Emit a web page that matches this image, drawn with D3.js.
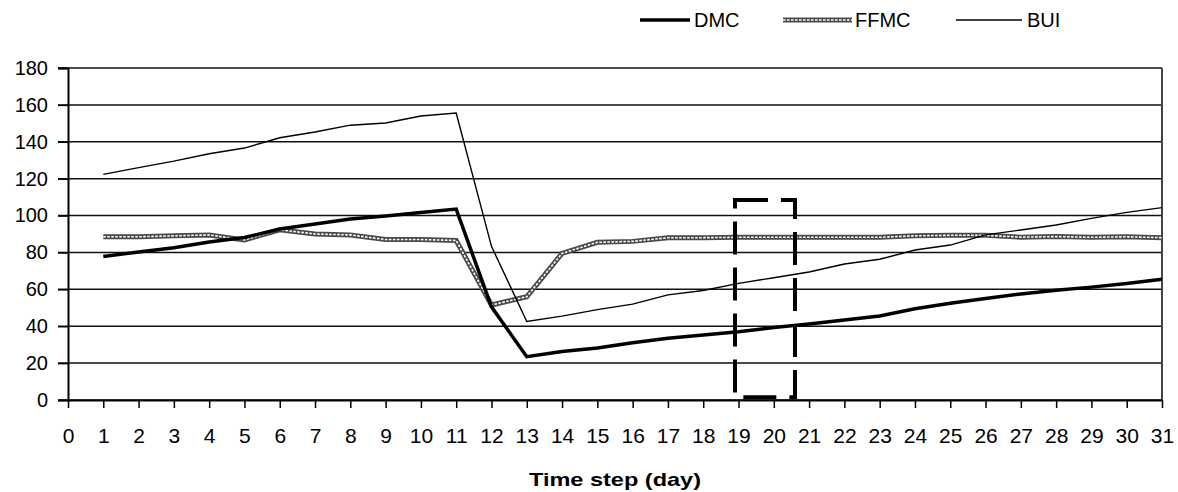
<!DOCTYPE html>
<html lang="en">

<head>
    <meta charset="UTF-8">
    <title>DMC FFMC BUI</title>
    <style>
        body {
            padding: 0;
            margin: 0;
            background: #fff;
        }

        text {
            font-family: "Liberation Sans", Arial, sans-serif;
        }
    </style>
</head>

<body>
    <script src="https://d3js.org/d3.v7.min.js"></script>
    <script>
        // data
        const days = [1, 2, 3, 4, 5, 6, 7, 8, 9, 10, 11, 12, 13, 14, 15, 16, 17, 18, 19, 20, 21, 22, 23, 24, 25, 26, 27, 28, 29, 30, 31]
        const dmc = [77.8, 80.3, 82.6, 85.7, 88.1, 92.7, 95.4, 98.1, 99.8, 101.6, 103.5, 50.5, 23.5, 26.3, 28.2, 31, 33.5, 35.2, 37, 39.3, 41.2, 43.4, 45.5, 49.5, 52.5, 55, 57.5, 59.5, 61.2, 63.2, 65.5]
        const ffmc = [88.5, 88.5, 89, 89.5, 86.8, 92.3, 90, 89.5, 87, 87, 86.5, 51.5, 56, 79.5, 85.5, 86, 88, 88, 88.2, 88.2, 88.2, 88.2, 88.2, 89, 89.3, 89.3, 88.3, 88.6, 88.2, 88.5, 88]
        const bui = [122.3, 126, 129.5, 133.5, 136.6, 142.2, 145.3, 149, 150.2, 154, 155.6, 83.3, 42.6, 45.5, 49, 52, 57, 59.4, 63.2, 66.3, 69.4, 73.7, 76.3, 81.3, 84, 89.5, 92.2, 94.9, 98.5, 101.7, 104.3]
        const xTicks = d3.range(0, 32)
        const yTicks = [0, 20, 40, 60, 80, 100, 120, 140, 160, 180]
        // dashed box around days 19-20
        const box = { x0: 18.9, x1: 20.6, y0: 1.5, y1: 108.5 }

        const width = 1178
        const height = 492
        const margin = { top: 68, right: 16, bottom: 92, left: 68 }
        const fontSize = 20

        const svg = d3.select('body')
            .append('svg')
            .attr('width', width)
            .attr('height', height)

        const x = d3.scaleLinear().domain([0, 31]).range([margin.left, width - margin.right])
        const y = d3.scaleLinear().domain([0, 180]).range([height - margin.bottom, margin.top])

        // 网格线
        svg.append('g')
            .selectAll('line')
            .data(yTicks)
            .enter()
            .append('line')
            .attr('x1', margin.left - 10)
            .attr('x2', width - margin.right)
            .attr('y1', d => y(d))
            .attr('y2', d => y(d))
            .attr('stroke', '#111')
            .attr('stroke-width', 1.5)

        // right border
        svg.append('line')
            .attr('x1', width - margin.right)
            .attr('x2', width - margin.right)
            .attr('y1', y(180))
            .attr('y2', y(0))
            .attr('stroke', '#444')
            .attr('stroke-width', 2)

        // y axis
        const yAxis = svg.append('g')
            .attr('transform', `translate(${margin.left},0)`)
            .call(d3.axisLeft(y).tickValues(yTicks).tickSize(10).tickPadding(10))
        yAxis.select('.domain').attr('stroke', '#000').attr('stroke-width', 2)
        yAxis.selectAll('.tick line').attr('stroke', '#000').attr('stroke-width', 1.5)
        yAxis.selectAll('text')
            .attr('font-size', fontSize)
            .attr('fill', '#000')
            .style('font-family', '"Liberation Sans", Arial, sans-serif')

        // x axis
        const xAxis = svg.append('g')
            .attr('transform', `translate(0,${y(0)})`)
            .call(d3.axisBottom(x).tickValues(xTicks).tickSize(8).tickPadding(20).tickSizeOuter(0))
        xAxis.select('.domain').attr('stroke', '#000').attr('stroke-width', 2)
        xAxis.selectAll('.tick line').attr('stroke', '#000').attr('stroke-width', 1.5)
        xAxis.selectAll('text')
            .attr('font-size', 21)
            .attr('fill', '#000')
            .style('font-family', '"Liberation Sans", Arial, sans-serif')

        svg.append('text')
            .attr('x', (x(0) + x(31)) / 2)
            .attr('y', 486)
            .attr('text-anchor', 'middle')
            .attr('font-size', 19)
            .attr('font-weight', 'bold')
            .attr('textLength', 172)
            .attr('lengthAdjust', 'spacingAndGlyphs')
            .text('Time step (day)')

        const line = d3.line()
            .x((d, i) => x(days[i]))
            .y(d => y(d))

        // FFMC：粗灰线加白色点划，模拟链状图案
        svg.append('path')
            .attr('d', line(ffmc))
            .attr('fill', 'none')
            .attr('stroke', '#4a4a4a')
            .attr('stroke-width', 5)
        svg.append('path')
            .attr('d', line(ffmc))
            .attr('fill', 'none')
            .attr('stroke', '#fff')
            .attr('stroke-width', 1.6)
            .attr('stroke-dasharray', '2.5,1.5')

        svg.append('path')
            .attr('d', line(bui))
            .attr('fill', 'none')
            .attr('stroke', '#000')
            .attr('stroke-width', 1.4)

        svg.append('path')
            .attr('d', line(dmc))
            .attr('fill', 'none')
            .attr('stroke', '#000')
            .attr('stroke-width', 3.5)

        // dashed box
        svg.append('rect')
            .attr('x', x(box.x0))
            .attr('y', y(box.y1))
            .attr('width', x(box.x1) - x(box.x0))
            .attr('height', y(box.y0) - y(box.y1))
            .attr('fill', 'none')
            .attr('stroke', '#000')
            .attr('stroke-width', 4)
            .attr('stroke-dasharray', '33,13')

        // legend
        const legend = svg.append('g').attr('transform', 'translate(0,20)')
        legend.append('line').attr('x1', 640).attr('x2', 690).attr('stroke', '#000').attr('stroke-width', 3.5)
        legend.append('text').attr('x', 694).attr('y', 7).attr('font-size', fontSize).text('DMC')
        legend.append('line').attr('x1', 783).attr('x2', 852).attr('stroke', '#4a4a4a').attr('stroke-width', 5)
        legend.append('line').attr('x1', 783).attr('x2', 852).attr('stroke', '#fff').attr('stroke-width', 1.6).attr('stroke-dasharray', '2.5,1.5')
        legend.append('text').attr('x', 855).attr('y', 7).attr('font-size', fontSize).text('FFMC')
        legend.append('line').attr('x1', 956).attr('x2', 1022).attr('stroke', '#000').attr('stroke-width', 1.4)
        legend.append('text').attr('x', 1027).attr('y', 7).attr('font-size', fontSize).text('BUI')
    </script>
</body>

</html>
